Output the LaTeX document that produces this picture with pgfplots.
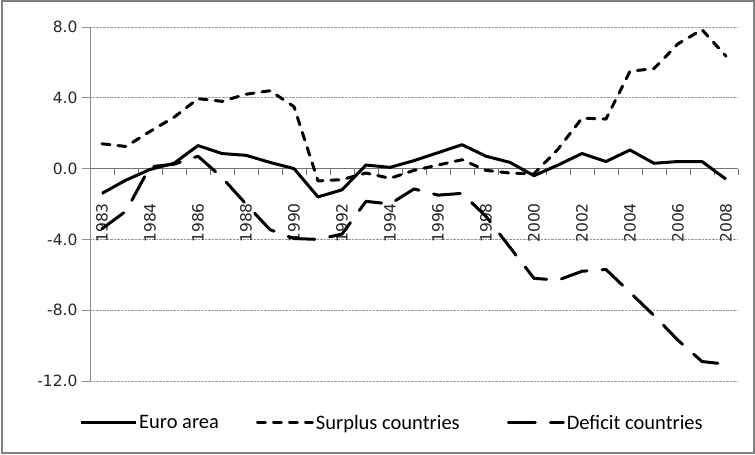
\documentclass[border=0pt]{standalone}
\usepackage{pgfplots}
\pgfplotsset{compat=1.18}
\usepackage{pgfplotstable}
\usepackage{fontspec}
\setmainfont{Carlito}
\newfontfamily\tickfont{DejaVu Sans}
\pgfplotstableread{
k euro surplus deficit
0 -1.4 1.4 -3.4
1 -0.65 1.25 -2.4
2 -0.05 2.1 0.1
3 0.3 2.9 0.25
4 1.3 3.95 0.7
5 0.85 3.8 -0.5
6 0.75 4.2 -2.0
7 0.35 4.4 -3.45
8 0.0 3.5 -3.95
9 -1.6 -0.7 -4.0
10 -1.2 -0.62 -3.7
11 0.2 -0.25 -1.85
12 0.07 -0.55 -2.0
13 0.45 -0.1 -1.15
14 0.9 0.2 -1.5
15 1.35 0.5 -1.4
16 0.7 -0.1 -2.7
17 0.35 -0.25 -4.45
18 -0.4 -0.3 -6.2
19 0.2 1.1 -6.3
20 0.85 2.85 -5.8
21 0.4 2.8 -5.7
22 1.05 5.5 -7.0
23 0.3 5.65 -8.3
24 0.4 7.05 -9.7
25 0.4 7.85 -10.9
26 -0.6 6.35 -11.05
}\datatable
\begin{document}
\begin{tikzpicture}[x=1pt,y=1pt]
\useasboundingbox (0,0) rectangle (755,455);
\draw[color=black!50, line width=2pt] (1.5,1.5) rectangle (753.5,453.5);
\begin{axis}[
  at={(90pt,74pt)}, anchor=south west,
  scale only axis, width=648pt, height=354pt,
  xmin=-0.5, xmax=26.5, ymin=-12, ymax=8,
  axis x line=middle, axis y line=left,
  x axis line style={-, draw=black!55, line width=0.8pt},
  y axis line style={-, draw=black!45, line width=0.8pt},
  hide obscured x ticks=false, hide obscured y ticks=false,
  tick align=outside,
  xtick={0,2,...,26},
  xticklabels={1983,1984,1986,1988,1990,1992,1994,1996,1998,2000,2002,2004,2006,2008},
  minor xtick={-0.5,0.5,...,26.5},
  major x tick style={draw=none},
  minor x tick style={draw=black!55, line width=0.8pt},
  minor tick length=6pt,
  major tick length=8pt,
  ytick={-12,-8,-4,0,4,8},
  yticklabels={-12.0,-8.0,-4.0,0.0,4.0,8.0},
  major y tick style={draw=black!45, line width=0.8pt},
  ymajorgrids=true,
  grid style={densely dotted, draw=black!40, line width=0.6pt},
  ticklabel style={font=\tickfont\fontsize{15.5}{18}\selectfont, text=black!85},
  xticklabel style={rotate=90, anchor=east, xshift=-12pt},
  xticklabel shift=11pt,
  yticklabel shift=1pt,
  legend columns=3,
  legend cell align=left,
  legend style={at={(-0.017,-0.1186)}, anchor=west, draw=none, fill=none,
    inner sep=0pt, font=\fontsize{20.5}{24}\selectfont,
    /tikz/column 2/.style={column sep=35pt},
    /tikz/column 4/.style={column sep=45pt}},
  legend image code/.code={\draw[#1] (0pt,0pt) -- (55pt,0pt);},
  every axis plot/.append style={black, line width=3pt, no markers},
]
\addplot[line join=round] table[x=k, y=euro] {\datatable};
\addlegendentry{Euro area}
\addplot[dash pattern=on 8pt off 8pt, line cap=round, line join=round] table[x=k, y=surplus] {\datatable};
\addlegendentry{Surplus countries}
\addplot[dash pattern=on 27pt off 15pt, line cap=round, line join=round] table[x=k, y=deficit] {\datatable};
\addlegendentry{Deficit countries}
\end{axis}
\end{tikzpicture}
\end{document}
